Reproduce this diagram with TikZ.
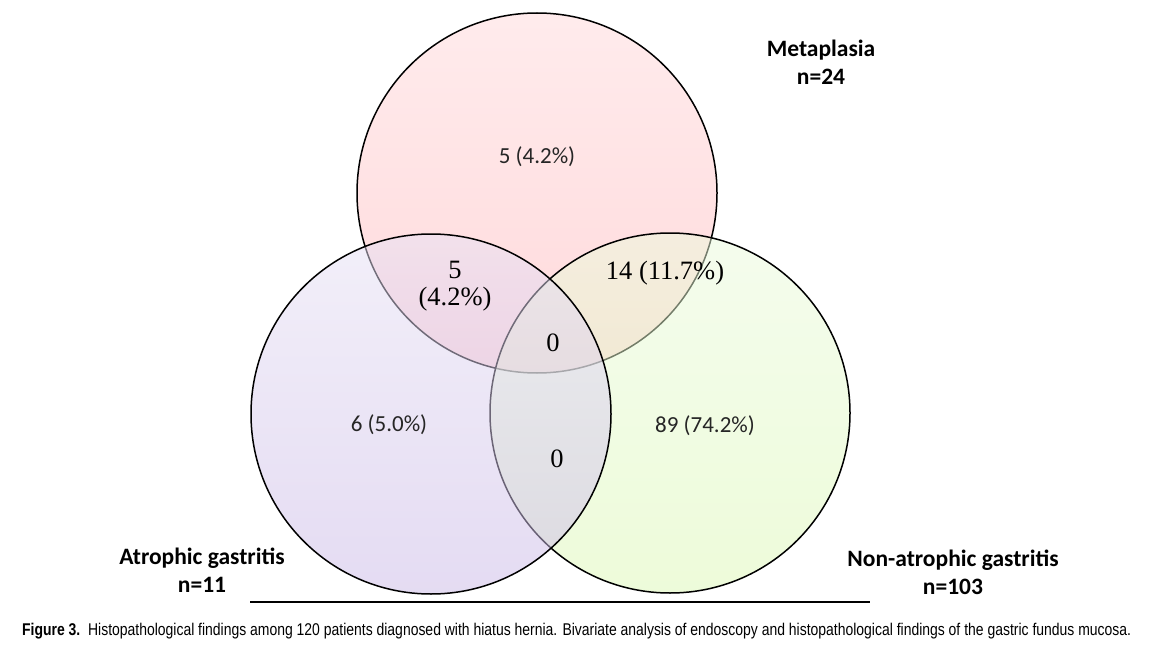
\documentclass[tikz,border=0pt]{standalone}
\usepackage{fontspec}
\setmainfont{Liberation Serif}
\newfontfamily\calfont{Carlito}
\newfontfamily\capfont{Liberation Sans}
\usepackage{graphicx}
\newsavebox\capbox
\definecolor{pinkT}{HTML}{FFD9DB}
\definecolor{pinkB}{HTML}{FFB5B9}
\definecolor{lavT}{HTML}{E7E1F5}
\definecolor{lavB}{HTML}{CBB9E7}
\definecolor{grnT}{HTML}{EBFBDD}
\definecolor{grnB}{HTML}{DDF9B5}
\tikzset{
  setcirc/.style={circle, minimum size=360pt, inner sep=0pt, draw=black, line width=1.5pt, fill opacity=0.5},
  lbl/.style={font=\calfont\bfseries\fontsize{23.5}{28}\selectfont, align=center, text=black},
  calnum/.style={font=\calfont\fontsize{23}{26}\selectfont, text=black!85},
  sernum/.style={font=\fontsize{26.5}{27}\selectfont, align=center, text=black}
}
\begin{document}
\begin{tikzpicture}[x=1pt,y=-1pt]
\path[use as bounding box, fill=white] (0,0) rectangle (1169,647);
\node[setcirc, top color=pinkT, bottom color=pinkB] (meta) at (537,193) {};
\node[setcirc, top color=grnT, bottom color=grnB] (non) at (670,413) {};
\node[setcirc, top color=lavT, bottom color=lavB] (atr) at (431,414) {};
\node[calnum] (t1) at (537,157) {5 (4.2\%)};
\node[sernum] (t2) at (455,286) {5\\(4.2\%)};
\node[sernum] (t3) at (665,273) {14 (11.7\%)};
\node[sernum] (t4) at (553,343) {0};
\node[calnum] (t5) at (389,425) {6 (5.0\%)};
\node[sernum] (t6) at (557,459) {0};
\node[calnum] (t7) at (705,426) {89 (74.2\%)};
\node[lbl] (l1) at (821,62) {Metaplasia\\n=24};
\node[lbl] (l2) at (202,570) {Atrophic gastritis\\n=11};
\node[lbl] (l3) at (953,572) {Non-atrophic gastritis\\n=103};
\coordinate (ra) at (250,602);
\coordinate (rb) at (870,602);
\draw[line width=2.2pt] (ra) -- (rb);
\node[anchor=west, inner sep=0pt] (cap) at (22,631) {\sbox\capbox{\capfont\fontsize{17}{18}\selectfont\textbf{Figure 3.}\ \ Histopathological findings among 120 patients diagnosed with hiatus hernia. Bivariate analysis of endoscopy and histopathological findings of the gastric fundus mucosa.}\scalebox{\fpeval{1109/\wd\capbox}}[1]{\usebox\capbox}};
\end{tikzpicture}
\end{document}
